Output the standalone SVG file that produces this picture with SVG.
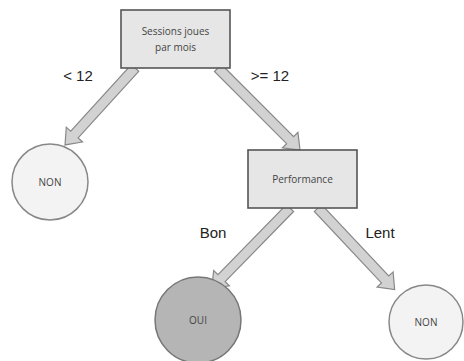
<svg xmlns="http://www.w3.org/2000/svg" width="464" height="361" viewBox="0 0 464 361">
<style>
.box{fill:#e6e6e6;stroke:#555;stroke-width:1.6}
.leaf{fill:#f3f3f3;stroke:#888;stroke-width:1.5}
.yes{fill:#b5b5b5;stroke:#777;stroke-width:1.5}
.arr{fill:#d2d2d2;stroke:#888;stroke-width:1.2}
.nt{font-family:"Open Sans","Liberation Sans",sans-serif;font-size:10px;fill:#444;text-anchor:middle}
.lb{font-family:"Liberation Sans",sans-serif;font-size:15px;fill:#222;text-anchor:middle}
</style>
<rect width="464" height="361" fill="#fff"/>
<g id="connectors">
<path class="arr" transform="translate(135,68) rotate(132.3)" d="M0,-5 L90,-5 L90,-11 L104,0 L90,11 L90,5 L0,5 Z"/>
<path class="arr" transform="translate(218,68) rotate(45)" d="M0,-5 L102,-5 L102,-11 L116,0 L102,11 L102,5 L0,5 Z"/>
<path class="arr" transform="translate(290,208) rotate(134.3)" d="M0,-5 L98,-5 L98,-11 L112,0 L98,11 L98,5 L0,5 Z"/>
<path class="arr" transform="translate(318,208) rotate(46.8)" d="M0,-5 L98,-5 L98,-11 L112,0 L98,11 L98,5 L0,5 Z"/>
<text class="lb" x="78" y="81">&lt; 12</text>
<text class="lb" x="270" y="81">&gt;= 12</text>
<text class="lb" x="213" y="238">Bon</text>
<text class="lb" x="380" y="238">Lent</text>
</g>
<g id="root">
<rect class="box" x="121" y="10" width="109" height="58"/>
<text class="nt" x="175.5" y="35">Sessions joues</text>
<text class="nt" x="175.5" y="51">par mois</text>
</g>
<g id="perf">
<rect class="box" x="248" y="150" width="109" height="58"/>
<text class="nt" x="302.5" y="183">Performance</text>
</g>
<g id="non1">
<circle class="leaf" cx="50" cy="182" r="38"/>
<text class="nt" x="50" y="186">NON</text>
</g>
<g id="oui">
<circle class="yes" cx="198" cy="320" r="43"/>
<text class="nt" x="198" y="324">OUI</text>
</g>
<g id="non2">
<circle class="leaf" cx="426" cy="322" r="37"/>
<text class="nt" x="426" y="326">NON</text>
</g>
</svg>
